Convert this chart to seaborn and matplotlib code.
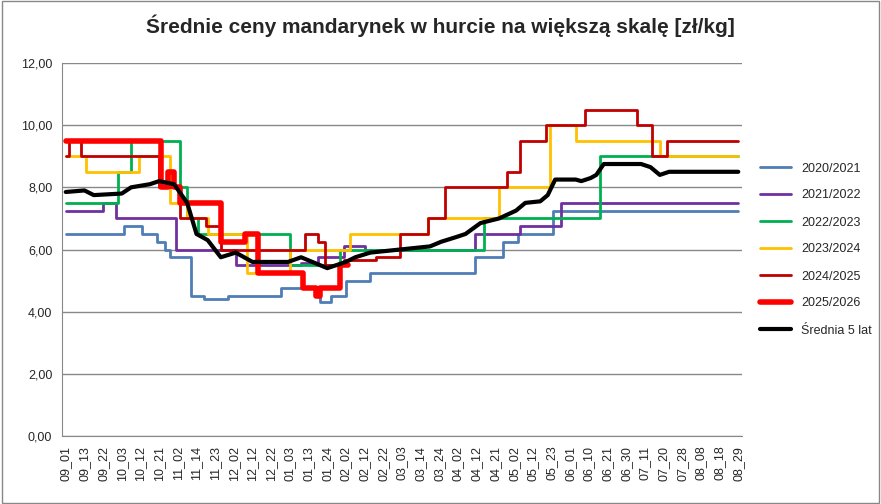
import numpy as np
import pandas as pd
import seaborn as sns
import matplotlib
matplotlib.use("Agg")
import matplotlib.pyplot as plt
from matplotlib.ticker import FuncFormatter

sns.set_style("white")
plt.rcParams['font.family'] = ['Liberation Sans', 'DejaVu Sans']

tick_labels = ['09_01', '09_13', '09_22', '10_03', '10_12', '10_21', '11_02', '11_14', '11_23',
               '12_02', '12_12', '12_22', '01_03', '01_13', '01_24', '02_02', '02_12', '02_22',
               '03_03', '03_14', '03_24', '04_02', '04_12', '04_21', '05_02', '05_12', '05_23',
               '06_01', '06_10', '06_21', '06_30', '07_11', '07_20', '07_28', '08_08', '08_18', '08_29']

# change points (position in tick units, price)
s2020_x = [0, 3.1, 4.1, 4.9, 5.3, 5.6, 6.7, 7.4, 8.7, 11.5, 13.6, 14.2, 15.0, 16.3, 21.9, 23.4, 24.2, 26.1, 36]
s2020_y = [6.5, 6.75, 6.5, 6.25, 6.0, 5.75, 4.5, 4.4, 4.5, 4.75, 4.3, 4.5, 5.0, 5.25, 5.75, 6.25, 6.5, 7.25, 7.25]

s2021_x = [0, 2.0, 2.7, 5.9, 9.1, 12.6, 13.5, 14.9, 16.0, 21.9, 24.3, 26.5, 36]
s2021_y = [7.25, 7.5, 7.0, 6.0, 5.5, 5.55, 5.75, 6.1, 6.0, 6.5, 6.75, 7.5, 7.5]

s2022_x = [0, 2.8, 3.5, 6.1, 6.5, 7.1, 12.0, 14.7, 22.4, 28.6, 36]
s2022_y = [7.5, 8.5, 9.5, 8.0, 7.0, 6.5, 5.5, 6.0, 7.0, 9.0, 9.0]

s2023_x = [0, 1.1, 3.9, 5.6, 6.5, 7.6, 9.7, 12.0, 15.2, 19.4, 23.2, 25.9, 27.3, 31.8, 36]
s2023_y = [9.0, 8.5, 9.0, 7.5, 7.0, 6.5, 5.25, 6.0, 6.5, 7.0, 8.0, 10.0, 9.5, 9.0, 9.0]

s2024_x = [0, 0.2, 0.8, 5.0, 6.1, 7.5, 8.3, 12.8, 13.5, 13.9, 14.9, 16.6, 17.9, 19.4, 20.3, 23.6, 24.3, 25.7, 27.8, 30.6, 31.4, 32.2, 36]
s2024_y = [9.0, 9.5, 9.0, 8.0, 7.0, 6.75, 6.0, 6.5, 6.25, 5.5, 5.65, 5.75, 6.5, 7.0, 8.0, 8.5, 9.5, 10.0, 10.5, 10.0, 9.0, 9.5, 9.5]

s2025_x = [0, 3.5, 5.1, 5.5, 5.8, 6.1, 8.3, 9.6, 10.3, 12.7, 13.4, 13.6, 14.7, 15.1]
s2025_y = [9.5, 9.5, 8.0, 8.5, 8.0, 7.5, 6.25, 6.5, 5.25, 4.75, 4.5, 4.75, 5.5, 5.5]

avg_x = [0, 1, 1.5, 3, 3.5, 4.5, 5, 5.8, 6.5, 7.0, 7.6, 8.3, 9.1, 10, 11.9, 12.6, 14.0, 15.0, 15.5, 16.3,
         17.9, 19.5, 20.1, 20.9, 21.4, 22.2, 23.2, 24.1, 24.6, 25.4, 25.8, 26.2, 27.3, 27.6, 28.1, 28.4, 28.8, 30.8, 31.3, 31.8, 32.3, 36]
avg_y = [7.85, 7.9, 7.75, 7.8, 8.0, 8.1, 8.2, 8.1, 7.5, 6.5, 6.3, 5.75, 5.9, 5.6, 5.6, 5.75, 5.4, 5.6, 5.75, 5.9,
         6.0, 6.1, 6.25, 6.4, 6.5, 6.85, 7.0, 7.25, 7.5, 7.55, 7.75, 8.25, 8.25, 8.2, 8.3, 8.4, 8.75, 8.75, 8.65, 8.4, 8.5, 8.5]

series = [
    ('2020/2021', s2020_x, s2020_y, '#4f7db5', 2, 'steps-post'),
    ('2021/2022', s2021_x, s2021_y, '#7030a0', 2, 'steps-post'),
    ('2022/2023', s2022_x, s2022_y, '#00b050', 2, 'steps-post'),
    ('2023/2024', s2023_x, s2023_y, '#ffc000', 2, 'steps-post'),
    ('2024/2025', s2024_x, s2024_y, '#c00000', 2, 'steps-post'),
    ('2025/2026', s2025_x, s2025_y, '#ff0000', 4, 'steps-post'),
    ('Średnia 5 lat', avg_x, avg_y, '#000000', 3, 'default'),
]

fig = plt.figure(figsize=(8.81, 5.04), dpi=100)
ax = fig.add_axes([62 / 881, 1 - 436 / 504, 680 / 881, 373 / 504])

for name, xs, ys, col, lw, ds in series:
    df = pd.DataFrame({'x': xs, 'y': ys})
    sns.lineplot(data=df, x='x', y='y', ax=ax, color=col, linewidth=lw, drawstyle=ds,
                 label=name, estimator=None, sort=False)

ax.set_xlim(-0.2, 36.2)
ax.set_ylim(0, 12)
ax.set_yticks(np.arange(0, 12.01, 2))
ax.yaxis.set_major_formatter(FuncFormatter(lambda v, p: f'{v:.2f}'.replace('.', ',')))
ax.set_xticks(range(len(tick_labels)))
ax.set_xticklabels(tick_labels, rotation=90, fontsize=9)
ax.tick_params(axis='y', labelsize=9)
ax.grid(axis='y', color='#888888', linewidth=1)
ax.set_xlabel('')
ax.set_ylabel('')
for side in ['top', 'right']:
    ax.spines[side].set_visible(False)
ax.spines['left'].set_color('#888888')
ax.spines['bottom'].set_color('#888888')

ax.legend(loc='center left', bbox_to_anchor=(1.01, 0.5), frameon=False, fontsize=9, labelspacing=1.2, handlelength=2.5)
fig.text(0.5, 0.935, 'Średnie ceny mandarynek w hurcie na większą skalę [zł/kg]', ha='center',
         fontsize=15, fontweight='bold')
fig.patches.append(plt.Rectangle((0.002, 0.002), 0.996, 0.996, transform=fig.transFigure,
                                 fill=False, edgecolor='#888888', linewidth=1))
fig.savefig('out.png', dpi=100)
